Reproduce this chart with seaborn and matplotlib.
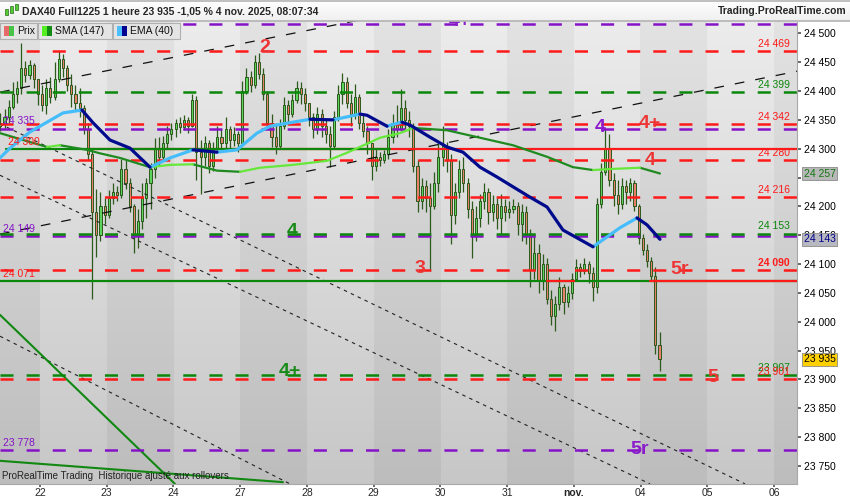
import numpy as np
import pandas as pd
import seaborn as sns
import matplotlib.pyplot as plt
import matplotlib.patches as patches

# ---- valeurs ----
day_labels = ["22", "23", "24", "27", "28", "29", "30", "31", "nov.", "04", "05", "06"]
bars_per_day = 16
# index du jour (22 oct = 0) et nombre de bougies horaires visibles par séance
session_day = [-1, 0, 1, 2, 3, 4, 5, 6, 7, 8, 9]
session_bars = [10, 16, 16, 16, 16, 16, 16, 16, 16, 16, 5]

first_open = 24340
close_px = [
    24345, 24355, 24372, 24395, 24405, 24440, 24428, 24445, 24420, 24395,  # 21 oct
    24375, 24405, 24390, 24420, 24455, 24440, 24410, 24395, 24380, 24370, 24335, 24290, 24190, 24150, 24200, 24185,
    24215, 24225, 24220, 24265, 24240, 24200, 24150, 24175, 24215, 24240, 24265, 24300, 24285, 24310, 24325, 24335,
    24345, 24338, 24350, 24340, 24385, 24295, 24285, 24310, 24270, 24300, 24320, 24310, 24335, 24315, 24325, 24310,
    24400, 24425, 24410, 24450, 24430, 24395, 24345, 24320, 24305, 24340, 24375, 24360, 24385, 24405, 24395, 24380,
    24355, 24335, 24360, 24340, 24325, 24305, 24355, 24395, 24415, 24380, 24360, 24390, 24345, 24330, 24310, 24270,
    24285, 24280, 24290, 24320, 24345, 24335, 24370, 24350, 24340, 24270, 24210, 24235, 24215, 24200, 24240, 24285,
    24305, 24280, 24185, 24225, 24265, 24240, 24195, 24150, 24180, 24210, 24225, 24190, 24205, 24180, 24200, 24190,
    24195, 24200, 24170, 24190, 24150, 24090, 24120, 24070, 24100, 24040, 24010, 24030, 24060, 24035, 24050, 24075,
    24095, 24088, 24100, 24085, 24060, 24205, 24260, 24300, 24245, 24220, 24205, 24235, 24225, 24240, 24200, 24145,
    24125, 24105, 24080, 23960, 23935,  # 4 nov
]
high_px = [
    24362, 24368, 24385, 24415, 24418, 24483, 24452, 24453, 24448, 24418,
    24410, 24420, 24425, 24450, 24470, 24465, 24445, 24430, 24410, 24406, 24375, 24345, 24300, 24230, 24225, 24215,
    24228, 24240, 24235, 24282, 24280, 24250, 24205, 24195, 24240, 24250, 24275, 24318, 24320, 24322, 24340, 24345,
    24352, 24355, 24358, 24355, 24395, 24392, 24315, 24322, 24315, 24312, 24340, 24335, 24355, 24340, 24338, 24330,
    24418, 24440, 24435, 24462, 24466, 24440, 24400, 24360, 24345, 24352, 24390, 24385, 24395, 24418, 24415, 24405,
    24378, 24362, 24372, 24368, 24350, 24340, 24365, 24410, 24432, 24425, 24395, 24413, 24395, 24360, 24340, 24305,
    24300, 24295, 24298, 24335, 24360, 24375, 24404, 24385, 24365, 24345, 24280, 24250, 24245, 24240, 24260, 24310,
    24340, 24312, 24290, 24240, 24280, 24285, 24250, 24210, 24200, 24222, 24240, 24232, 24220, 24215, 24222, 24212,
    24210, 24212, 24208, 24205, 24200, 24160, 24150, 24135, 24118, 24110, 24055, 24045, 24078, 24065, 24062, 24085,
    24108, 24102, 24111, 24105, 24095, 24215, 24275, 24335, 24325, 24258, 24245, 24250, 24245, 24250, 24245, 24205,
    24152, 24135, 24112, 24095, 23982,
]
low_px = [
    24330, 24335, 24345, 24368, 24380, 24395, 24415, 24420, 24405, 24375,
    24365, 24360, 24380, 24385, 24415, 24425, 24400, 24372, 24365, 24355, 24325, 24280, 24040, 24112, 24140, 24170,
    24180, 24205, 24210, 24215, 24230, 24190, 24120, 24128, 24160, 24180, 24195, 24250, 24270, 24280, 24300, 24315,
    24320, 24328, 24333, 24328, 24338, 24245, 24222, 24270, 24258, 24262, 24295, 24298, 24300, 24300, 24305, 24295,
    24385, 24395, 24398, 24405, 24420, 24385, 24335, 24303, 24290, 24300, 24335, 24345, 24355, 24380, 24378, 24365,
    24340, 24318, 24325, 24320, 24310, 24268, 24300, 24348, 24378, 24370, 24340, 24352, 24335, 24320, 24290, 24245,
    24262, 24270, 24275, 24282, 24310, 24320, 24330, 24335, 24320, 24260, 24190, 24195, 24190, 24088, 24195, 24225,
    24270, 24260, 24135, 24170, 24215, 24225, 24180, 24111, 24140, 24165, 24195, 24170, 24175, 24160, 24152, 24175,
    24180, 24188, 24150, 24140, 24135, 24060, 24075, 24050, 24055, 24030, 23995, 23984, 24020, 24013, 24025, 24040,
    24072, 24078, 24082, 24068, 24036, 24050, 24198, 24255, 24235, 24200, 24187, 24195, 24205, 24210, 24192, 24135,
    24115, 24095, 24070, 23944, 23915,
]

# moyennes mobiles
ema_day = [-0.599, -0.449, -0.150, 0.345, 0.629, 0.794, 1.049, 1.348, 1.648, 1.948, 2.292, 2.652, 2.951,
           3.251, 3.446, 3.790, 4.045, 4.390, 4.794, 4.899, 5.199, 5.288, 5.423, 5.543, 5.843, 6.097, 6.337,
           6.592, 6.846, 7.086, 7.341, 7.596, 7.835, 8.285, 8.494, 8.689, 8.944, 9.094, 9.288]
ema_val = [24284, 24301, 24329, 24362, 24367, 24345, 24315, 24301, 24268, 24284, 24298, 24294, 24298,
           24327, 24339, 24346, 24351, 24350, 24360, 24358, 24339, 24342, 24346, 24341, 24320, 24303, 24294,
           24268, 24251, 24234, 24216, 24199, 24159, 24130, 24147, 24163, 24180, 24168, 24143]
sma_day = [-0.599, -0.105, 0.105, 0.300, 0.704, 0.899, 1.199, 1.648, 1.948, 2.292, 2.652, 2.996, 3.296,
           3.790, 4.300, 4.599, 4.794, 5.094, 5.393, 5.588, 6.097, 6.592, 7.086, 7.596, 7.985, 8.285, 8.584,
           8.989, 9.288]
sma_val = [24327, 24310, 24303, 24306, 24298, 24292, 24284, 24268, 24272, 24273, 24262, 24260, 24267,
           24272, 24279, 24293, 24303, 24319, 24327, 24336, 24332, 24319, 24306, 24286, 24268, 24263, 24265,
           24267, 24257]

# niveaux horizontaux
dash_price = [24516, 24469, 24399, 24342, 24335, 24280, 24216, 24149, 24153, 24090, 23901, 23907, 23778]
dash_kind = ["violet", "rouge", "vert", "rouge", "violet", "rouge", "rouge", "violet", "vert", "rouge",
             "rouge", "vert", "violet"]
solid_price = [24300, 24300, 24071, 24071, 24071]
solid_kind = ["rouge", "vert", "vert", "rouge", "rouge"]
solid_from = [0.75, -0.51, -0.6, 7.60, 9.14]
solid_to = [11.4, 5.24, 11.4, 8.00, 11.4]

right_label_price = [24469, 24399, 24342, 24280, 24216, 24153, 24090, 23907, 23901]
right_label_kind = ["rouge", "vert", "rouge", "rouge", "rouge", "vert", "rouge", "vert", "rouge"]
left_label_price = [24335, 24300, 24149, 24071, 23778]
left_label_kind = ["violet", "rouge", "violet", "rouge", "violet"]

# droites tracées
trend_d0 = [-0.599, -0.599, -0.599, -0.599, -0.599, -0.599, -0.599]
trend_p0 = [24152, 24398, 24343, 24254, 23975, 24012, 23759]
trend_d1 = [11.371, 11.371, 10.562, 9.139, 3.745, 2.022, 3.640]
trend_p1 = [24435, 24676, 23719, 23719, 23719, 23719, 23722]
trend_kind = ["long", "long", "court", "court", "court", "vert", "vert"]

# comptage des vagues
wave_text = ["4+", "2", "4", "4+", "4", "4", "3", "5r", "4+", "5", "5r"]
wave_kind = ["violet", "rouge", "violet", "rouge", "rouge", "vert", "rouge", "rouge", "vert", "rouge", "violet"]
wave_day = [6.29, 3.371, 8.39, 9.139, 9.139, 3.775, 5.693, 9.588, 3.745, 10.082, 8.989]
wave_price = [24520, 24475, 24336, 24343, 24280, 24156, 24093, 24090, 23913, 23903, 23779]

title = "DAX40 Full1225 1 heure 23 935 -1,05 % 4 nov. 2025, 08:07:34"

# ---- style ----
sns.set_theme(style="white")
plt.rcParams['font.family'] = ['Liberation Sans', 'DejaVu Sans']
plt.rcParams['lines.scale_dashes'] = False

colors = {"rouge": "#ff1a1a", "vert": "#0b870b", "violet": "#8612c8"}
wave_colors = {"rouge": "#ee3535", "vert": "#188a18", "violet": "#8a1ccc"}


def fmt(p):
    return f"{int(p):,}".replace(",", " ")


fig = plt.figure(figsize=(8.5, 5), dpi=100)
fig.patch.set_facecolor("white")
ax = fig.add_axes([0, 16 / 500, 797 / 850, 462.5 / 500])

xmin, xmax = -0.599, 11.341
ymin, ymax = 23718.8, 24520.5

# fond : bandes par jour + dégradé vertical
xs = np.linspace(xmin, xmax, 1400)
light_band = (np.floor(xs) % 2 == 0)
t = np.linspace(0, 1, 300)[:, None]
bg = np.where(light_band[None, :], 0.925 - 0.145 * t, 0.888 - 0.148 * t)
ax.imshow(np.dstack([bg, bg, bg]), extent=[xmin, xmax, ymin, ymax], aspect="auto",
          origin="upper", zorder=0, interpolation="nearest")

# positions des bougies
xpos = []
for d, n in zip(session_day, session_bars):
    start = bars_per_day - n if d < 0 else 0
    for k in range(start, start + n):
        xpos.append(d + (k + 0.5) / bars_per_day)
xpos = np.array(xpos)
c = np.array(close_px, dtype=float)
o = np.r_[first_open, c[:-1]]
h = np.maximum(np.array(high_px, dtype=float), np.maximum(o, c))
lo = np.minimum(np.array(low_px, dtype=float), np.minimum(o, c))
up = c >= o

edge = "#2b5a1c"
ax.vlines(xpos, lo, h, color=edge, lw=0.9, zorder=2)
ax.bar(xpos, np.maximum(np.abs(c - o), 1.5), bottom=np.minimum(o, c), width=0.032,
       color=np.where(up, "#5cd45c", "#e8806c"), edgecolor=edge, linewidth=0.7, zorder=2.1)

# droites
for d0, p0, d1, p1, kind in zip(trend_d0, trend_p0, trend_d1, trend_p1, trend_kind):
    if kind == "long":
        ax.plot([d0, d1], [p0, p1], color="#111111", lw=0.9, dashes=(7, 8), zorder=2.5)
    elif kind == "court":
        ax.plot([d0, d1], [p0, p1], color="#222222", lw=0.8, dashes=(2.5, 3), zorder=2.5)
    else:
        ax.plot([d0, d1], [p0, p1], color="#118811", lw=1.5, zorder=2.5)

# niveaux
for p, kind in zip(dash_price, dash_kind):
    ax.axhline(p, color=colors[kind], lw=1.8, dashes=(9.4, 9.4), zorder=3)
for p, kind, d0, d1 in zip(solid_price, solid_kind, solid_from, solid_to):
    ax.plot([d0, d1], [p, p], color=colors[kind], lw=1.6, zorder=3)

for p, kind in zip(right_label_price, right_label_kind):
    ax.annotate(fmt(p), (11.236, p), xytext=(0, 1.5), textcoords="offset points", ha="right",
                va="bottom", fontsize=7.5, color=colors[kind],
                fontweight="bold" if p == 24090 else "normal", zorder=5)
for p, kind in zip(left_label_price, left_label_kind):
    ax.annotate(fmt(p), (-0.56 if p != 24300 else -0.48, p), xytext=(0, 1.5),
                textcoords="offset points", ha="left", va="bottom", fontsize=7.5,
                color=colors[kind], zorder=5)


# moyennes mobiles, couleur claire quand la courbe monte
def ma_frame(days, vals):
    rows, run, prev = [], 0, None
    for i in range(len(days) - 1):
        direction = "up" if vals[i + 1] > vals[i] else "down"
        if direction != prev:
            run += 1
            rows.append((days[i], vals[i], run, direction))
            prev = direction
        rows.append((days[i + 1], vals[i + 1], run, direction))
    return pd.DataFrame(rows, columns=["x", "y", "run", "dir"])


sns.lineplot(data=ma_frame(sma_day, sma_val), x="x", y="y", hue="dir", units="run",
             estimator=None, sort=False, palette={"up": "#66e83a", "down": "#1f8a1f"},
             lw=1.6, legend=False, ax=ax, zorder=4, solid_capstyle="round")
sns.lineplot(data=ma_frame(ema_day, ema_val), x="x", y="y", hue="dir", units="run",
             estimator=None, sort=False, palette={"up": "#45bdfa", "down": "#000a8c"},
             lw=2.3, legend=False, ax=ax, zorder=4.2, solid_capstyle="round")

for txt, kind, d, p in zip(wave_text, wave_kind, wave_day, wave_price):
    ax.text(d, p, txt, color=wave_colors[kind], fontsize=14, fontweight="bold",
            ha="center", va="center", zorder=5, clip_on=True)

ax.text(0.003, 0.018, "ProRealTime Trading  Historique ajusté aux rollovers", transform=ax.transAxes,
        fontsize=7, color="#222222", va="center", ha="left", zorder=6)

# axes
ax.set_xlim(xmin, xmax)
ax.set_ylim(ymin, ymax)
ax.set_xlabel("")
ax.set_ylabel("")
ax.set_xticks(range(len(day_labels)))
ax.set_xticklabels(day_labels)
for lab in ax.get_xticklabels():
    if lab.get_text() == "nov.":
        lab.set_fontweight("bold")
yt = np.arange(23750, 24501, 50)
ax.set_yticks(yt)
# 24 250 est entièrement masqué par l'étiquette de la SMA
ax.set_yticklabels(["" if v == 24250 else fmt(v) for v in yt])
for lab, v in zip(ax.get_yticklabels(), yt):
    if v % 500 == 0:
        lab.set_fontweight("bold")
ax.yaxis.tick_right()
ax.tick_params(axis="y", right=True, left=False, length=3, pad=2, labelsize=7.5,
               color="#555555", labelcolor="black")
ax.tick_params(axis="x", bottom=True, length=2, pad=1, labelsize=7.5, color="#555555")
for s in ["top", "left"]:
    ax.spines[s].set_visible(False)
for s in ["right", "bottom"]:
    ax.spines[s].set_color("#a8a8a8")
    ax.spines[s].set_linewidth(0.8)

# étiquettes de prix à droite
tags = [(sma_val[-1], "#117711", "#b8b8b8"), (ema_val[-1], "#000088", "#b8b8c0"),
        (close_px[-1], "#000000", "#ffd000")]
for p, tc, bc in tags:
    ax.annotate(fmt(p), xy=(1.0, p), xycoords=ax.get_yaxis_transform(), xytext=(5, 0),
                textcoords="offset points", va="center", ha="left", fontsize=7.5, color=tc,
                bbox=dict(boxstyle="square,pad=0.15", fc=bc, ec="#8a8a8a", lw=0.6),
                annotation_clip=False, zorder=12)

# bandeau du haut (léger dégradé, filets gris)
band = np.linspace(1.0, 0.94, 40)[:, None] * np.ones((1, 10))
bar_ax = fig.add_axes([0, 479 / 500, 1, 21 / 500], zorder=-1)
bar_ax.imshow(np.dstack([band, band, band]), aspect="auto", extent=[0, 1, 0, 1])
bar_ax.set_axis_off()
fig.add_artist(plt.Line2D([0, 1], [1 - 21 / 500] * 2, color="#b4b4b4", lw=1.2))
fig.add_artist(plt.Line2D([0, 1], [1 - 0.5 / 500] * 2, color="#b4b4b4", lw=1.2))

fig.text(22 / 850, 1 - 11 / 500, title, fontsize=7.5, fontweight="bold", va="center", ha="left")
fig.text(846 / 850, 1 - 11 / 500, "Trading.ProRealTime.com", fontsize=7.5, fontweight="bold",
         va="center", ha="right")
for xi, (y0, y1) in zip([5, 10, 15], [(9, 15), (6, 13), (4, 10)]):
    fig.add_artist(patches.Rectangle((xi / 850, 1 - y1 / 500), 2.5 / 850, (y1 - y0) / 500,
                                     transform=fig.transFigure, fc="#55cc33", ec="#2b6b1c", lw=0.5))

# légende
boxes = [(0, 37, "Prix", ("#e66a6a", "#47c447")),
         (38, 112, "SMA (147)", ("#55ee22", "#138a13")),
         (113, 180, "EMA (40)", ("#4cc0ff", "#000090"))]
for x0, x1, lab, (c1, c2) in boxes:
    fig.add_artist(patches.Rectangle((x0 / 850, 1 - 39 / 500), (x1 - x0) / 850, 16 / 500,
                                     transform=fig.transFigure, fc="#e4e4e4", ec="#b0b0b0",
                                     lw=0.8, zorder=10))
    fig.add_artist(patches.Rectangle(((x0 + 4) / 850, 1 - 36 / 500), 5 / 850, 10 / 500,
                                     transform=fig.transFigure, fc=c1, lw=0, zorder=11))
    fig.add_artist(patches.Rectangle(((x0 + 9) / 850, 1 - 36 / 500), 5 / 850, 10 / 500,
                                     transform=fig.transFigure, fc=c2, lw=0, zorder=11))
    fig.text((x0 + 17) / 850, 1 - 31.5 / 500, lab, fontsize=7.5, va="center", ha="left",
             color="#111111", zorder=11)

fig.savefig("out.png", dpi=100)
